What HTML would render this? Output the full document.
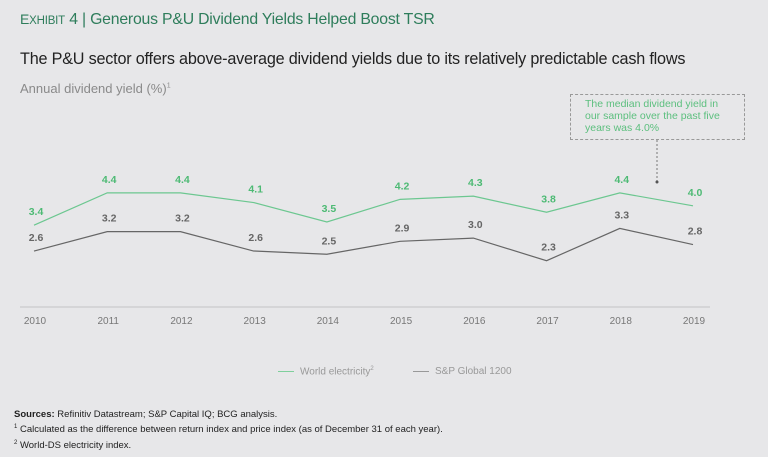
<!DOCTYPE html>
<html><head><meta charset="utf-8"><style>
body{margin:0;width:768px;height:457px;background:#e7e7e9;font-family:"Liberation Sans",sans-serif;overflow:hidden;position:relative}
.t{position:absolute;white-space:nowrap}
</style></head><body>
<div class="t" style="left:20px;top:11px;font-size:15.8px;color:#2e7d5b;letter-spacing:-0.2px"><span style="font-size:14px">E</span><span style="font-size:11.5px">XHIBIT</span> 4 | Generous P&amp;U Dividend Yields Helped Boost TSR</div>
<div class="t" style="left:20px;top:50px;font-size:16.2px;color:#222;letter-spacing:-0.2px">The P&amp;U sector offers above-average dividend yields due to its relatively predictable cash flows</div>
<div class="t" style="left:20px;top:81px;font-size:13px;color:#8a8a8a">Annual dividend yield (%)<sup style="font-size:7px">1</sup></div>
<div class="t" style="left:570px;top:94px;width:175px;height:46px;border:1px dashed #999;box-sizing:border-box;font-size:10.5px;line-height:11.8px;color:#5cbf7e;padding:4px 0 0 14px">The median dividend yield in<br>our sample over the past five<br>years was 4.0%</div>
<svg id="chart" width="768" height="457" style="position:absolute;left:0;top:0"></svg>
<div class="t" style="left:278px;top:366px;font-size:10px;color:#999"><span style="display:inline-block;width:16px;height:1px;background:#7fcf9c;vertical-align:middle;margin-right:6px"></span>World electricity<sup style="font-size:6px">2</sup></div>
<div class="t" style="left:413px;top:366px;font-size:10px;color:#999"><span style="display:inline-block;width:16px;height:1px;background:#999;vertical-align:middle;margin-right:6px"></span>S&amp;P Global 1200</div>
<div class="t" style="left:14px;top:409px;font-size:9.5px;line-height:12.3px;color:#222"><b>Sources:</b> Refinitiv Datastream; S&amp;P Capital IQ; BCG analysis.<br><sup style="font-size:6px">1</sup> Calculated as the difference between return index and price index (as of December 31 of each year).<br><sup style="font-size:6px">2</sup> World-DS electricity index.</div>
<script>
const years=["2010","2011","2012","2013","2014","2015","2016","2017","2018","2019"];
const world=[3.4,4.4,4.4,4.1,3.5,4.2,4.3,3.8,4.4,4.0];
const sp=[2.6,3.2,3.2,2.6,2.5,2.9,3.0,2.3,3.3,2.8];
const svg=document.getElementById('chart');
const NS='http://www.w3.org/2000/svg';
const x=i=>34+i*(659/9);
const y=v=>335-v*32.3;
function el(t,a){const e=document.createElementNS(NS,t);for(const k in a)e.setAttribute(k,a[k]);svg.appendChild(e);return e;}
const ax=el('line',{x1:20,x2:710,y1:307,y2:307,stroke:'#cfcfd1','stroke-width':1.5});


years.forEach((yr,i)=>{const t=el('text',{x:x(i)+1,y:324,'text-anchor':'middle','font-size':10,fill:'#777','font-family':'Liberation Sans'});t.textContent=yr;

});
function series(vals,col,lc,name){
 const p=el('polyline',{points:vals.map((v,i)=>x(i)+','+y(v)).join(' '),fill:'none',stroke:lc,'stroke-width':1.2});
 
 
 vals.forEach((v,i)=>{const t=el('text',{x:x(i)+2,y:y(v)-10,'text-anchor':'middle','font-size':10.5,'font-weight':'bold',fill:col,'font-family':'Liberation Sans'});t.textContent=v.toFixed(1);
 
 });
}
series(world,'#4dba74','#6cc790','world-electricity');
series(sp,'#666','#666','sp-global-1200');
const d=el('line',{x1:657,x2:657,y1:140,y2:181,stroke:'#777','stroke-dasharray':'2,2'});


const c=el('circle',{cx:657,cy:182,r:1.5,fill:'#555'});


</script>
</body></html>
